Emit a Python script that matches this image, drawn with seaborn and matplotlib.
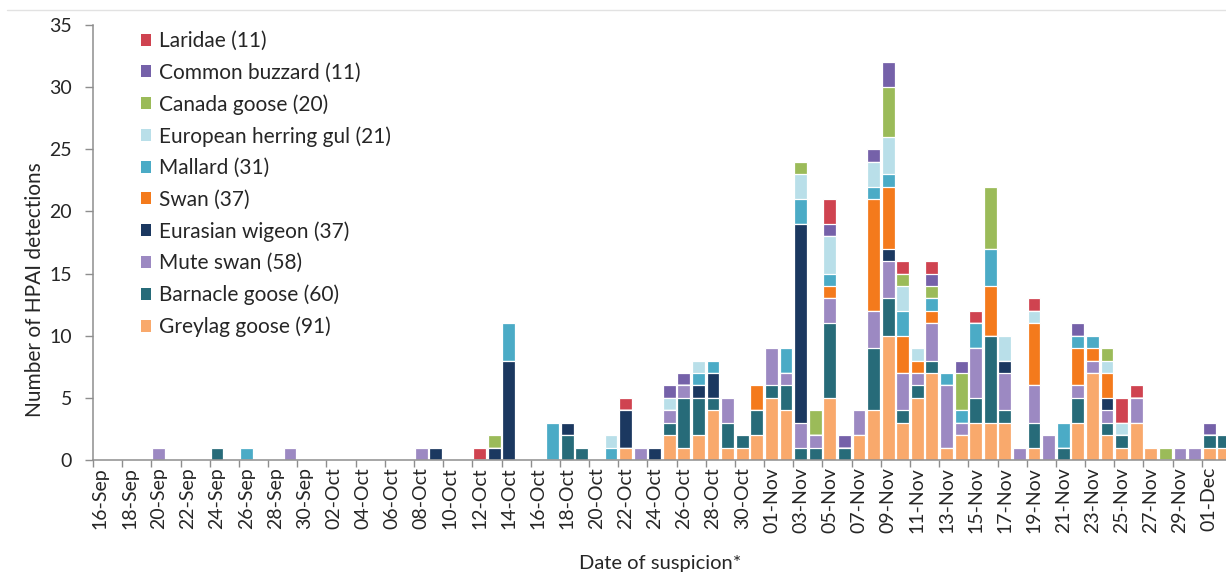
import numpy as np
import pandas as pd
import matplotlib
matplotlib.use("Agg")
import matplotlib.pyplot as plt
import seaborn as sns
from matplotlib.patches import Patch
from matplotlib.lines import Line2D

# ---------------- data ----------------
dates = pd.date_range("2021-09-16", "2021-12-02", freq="D")
date_labels = [d.strftime("%d-%b") for d in dates]
tick_labels = date_labels[::2]

#             idx 0-9 / 10-19 / 20-29 / 30-39 / 40-49 / 50-59 / 60-69 / 70-77
greylag = ([0, 0, 0, 0, 0, 0, 0, 0, 0, 0] + [0] * 10 + [0] * 10 +
           [0, 0, 0, 0, 0, 0, 1, 0, 0, 2] +
           [1, 2, 4, 1, 1, 2, 5, 4, 0, 0] +
           [5, 0, 2, 4, 10, 3, 5, 7, 1, 2] +
           [3, 3, 3, 0, 1, 0, 0, 3, 7, 2] +
           [1, 3, 1, 0, 0, 0, 1, 1])
barnacle = ([0, 0, 0, 0, 0, 0, 0, 0, 1, 0] + [0] * 10 + [0] * 10 +
            [0, 0, 2, 1, 0, 0, 0, 0, 0, 1] +
            [4, 3, 1, 2, 1, 2, 1, 2, 1, 1] +
            [6, 1, 0, 5, 3, 1, 1, 1, 0, 0] +
            [2, 7, 1, 0, 2, 0, 1, 2, 0, 1] +
            [1, 0, 0, 0, 0, 0, 1, 1])
mute_swan = ([0, 0, 0, 0, 1, 0, 0, 0, 0, 0] +
             [0, 0, 0, 1, 0, 0, 0, 0, 0, 0] +
             [0, 0, 1, 0, 0, 0, 0, 0, 0, 0] +
             [0, 0, 0, 0, 0, 0, 0, 1, 0, 1] +
             [1, 0, 0, 2, 0, 0, 3, 1, 2, 1] +
             [2, 0, 2, 3, 3, 3, 1, 3, 5, 1] +
             [4, 0, 3, 1, 3, 2, 0, 1, 1, 1] +
             [0, 2, 0, 0, 1, 1, 0, 0])
wigeon = ([0] * 10 + [0] * 10 +
          [0, 0, 0, 1, 0, 0, 0, 1, 8, 0] +
          [0, 0, 1, 0, 0, 0, 3, 0, 1, 0] +
          [0, 1, 2, 0, 0, 0, 0, 0, 16, 0] +
          [0, 0, 0, 0, 1, 0, 0, 0, 0, 0] +
          [0, 0, 1, 0, 0, 0, 0, 0, 0, 1] +
          [0, 0, 0, 0, 0, 0, 0, 0])
swan = ([0] * 10 + [0] * 10 + [0] * 10 + [0] * 10 +
        [0, 0, 0, 0, 0, 2, 0, 0, 0, 0] +
        [1, 0, 0, 9, 5, 3, 1, 1, 0, 0] +
        [0, 4, 0, 0, 5, 0, 0, 3, 1, 2] +
        [0, 0, 0, 0, 0, 0, 0, 0])
mallard = ([0] * 10 +
           [1, 0, 0, 0, 0, 0, 0, 0, 0, 0] +
           [0, 0, 0, 0, 0, 0, 0, 0, 3, 0] +
           [0, 3, 0, 0, 0, 1, 0, 0, 0, 0] +
           [0, 1, 1, 0, 0, 0, 0, 2, 2, 0] +
           [1, 0, 0, 1, 1, 2, 0, 1, 1, 1] +
           [2, 3, 0, 0, 0, 0, 2, 1, 1, 0] +
           [0, 0, 0, 0, 0, 0, 0, 0])
herring_gull = ([0] * 10 + [0] * 10 + [0] * 10 +
                [0, 0, 0, 0, 0, 1, 0, 0, 0, 1] +
                [0, 1, 0, 0, 0, 0, 0, 0, 2, 0] +
                [3, 0, 0, 2, 3, 2, 1, 0, 0, 0] +
                [0, 0, 2, 0, 1, 0, 0, 0, 0, 1] +
                [1, 0, 0, 0, 0, 0, 0, 0])
canada_goose = ([0] * 10 + [0] * 10 +
                [0, 0, 0, 0, 0, 0, 0, 1, 0, 0] +
                [0] * 10 +
                [0, 0, 0, 0, 0, 0, 0, 0, 1, 2] +
                [0, 0, 0, 0, 4, 1, 0, 1, 0, 3] +
                [0, 5, 0, 0, 0, 0, 0, 0, 0, 1] +
                [0, 0, 0, 1, 0, 0, 0, 0])
buzzard = ([0] * 10 + [0] * 10 + [0] * 10 +
           [0, 0, 0, 0, 0, 0, 0, 0, 0, 1] +
           [1, 0, 0, 0, 0, 0, 0, 0, 0, 0] +
           [1, 1, 0, 1, 2, 0, 0, 1, 0, 1] +
           [0, 0, 0, 0, 0, 0, 0, 1, 0, 0] +
           [0, 0, 0, 0, 0, 0, 1, 0])
laridae = ([0] * 10 + [0] * 10 +
           [0, 0, 0, 0, 0, 0, 1, 0, 0, 0] +
           [0, 0, 0, 0, 0, 0, 1, 0, 0, 0] +
           [0] * 10 +
           [2, 0, 0, 0, 0, 1, 0, 1, 0, 0] +
           [1, 0, 0, 0, 1, 0, 0, 0, 0, 0] +
           [2, 1, 0, 0, 0, 0, 0, 0])

species = ["Greylag goose", "Barnacle goose", "Mute swan", "Eurasian wigeon",
           "Swan", "Mallard", "European herring gul", "Canada goose",
           "Common buzzard", "Laridae"]
series = [greylag, barnacle, mute_swan, wigeon, swan, mallard,
          herring_gull, canada_goose, buzzard, laridae]
legend_counts = [91, 60, 58, 37, 37, 31, 21, 20, 11, 11]
colors = ["#F9A96C", "#276B79", "#9C89C2", "#1B3860", "#F47A1C",
          "#4BABC6", "#B9DFE9", "#9BBB59", "#7561A9", "#CF4350"]

# ---------------- plot ----------------
sns.set_theme(style="white")
plt.rcParams["font.family"] = ["Lato", "DejaVu Sans"]

W, H = 1226, 575
fig = plt.figure(figsize=(W / 100, H / 100), dpi=100)
ax = fig.add_axes([93 / W, 115 / H, 1138 / W, 435 / H])

cums = np.cumsum(np.array(series, dtype=float), axis=0)
for k in range(len(species) - 1, -1, -1):
    sns.barplot(x=date_labels, y=cums[k], order=date_labels, color=colors[k],
                saturation=1, width=0.88, edgecolor="white", linewidth=0.9,
                errorbar=None, ax=ax)

ax.set_xlim(-0.5, len(dates) - 0.5)
ax.set_ylim(0, 35)
ax.set_yticks(range(0, 36, 5))
ax.set_xticks(range(0, len(dates), 2))
ax.set_xticklabels(tick_labels, rotation=90)
ax.set_xticks(np.arange(-0.5, len(dates), 2), minor=True)
ax.set_xlabel("")
ax.set_ylabel("")

axis_col = "#8E8E8E"
ax.tick_params(axis="x", which="major", length=0, labelsize=14,
               labelcolor="#262626", pad=5)
ax.tick_params(axis="x", which="minor", length=5, width=1, color=axis_col,
               direction="out", bottom=True)
ax.tick_params(axis="y", length=6, width=1, color=axis_col, direction="out",
               labelsize=14, labelcolor="#262626", left=True, pad=9)
for s in ["top", "right"]:
    ax.spines[s].set_visible(False)
for s in ["left", "bottom"]:
    ax.spines[s].set_color(axis_col)
    ax.spines[s].set_linewidth(1.1)

fig.text(35 / W, 1 - 290 / H, "Number of HPAI detections", rotation=90,
         ha="center", va="center", fontsize=15, color="#262626")
fig.text(660 / W, 1 - 563 / H, "Date of suspicion*", ha="center",
         va="center", fontsize=14.5, color="#262626")

handles = [Patch(facecolor=colors[k], edgecolor="none")
           for k in range(len(species) - 1, -1, -1)]
labels = [f"{species[k]} ({legend_counts[k]})"
          for k in range(len(species) - 1, -1, -1)]
fig.legend(handles, labels, loc="upper left",
           bbox_to_anchor=(141 / W, 1 - 31 / H), frameon=False,
           fontsize=15, handlelength=0.5, handleheight=0.5,
           handletextpad=0.35, labelspacing=0.55, borderaxespad=0,
           borderpad=0, labelcolor="#262626")

fig.add_artist(Line2D([7 / W, 1], [1 - 10 / H, 1 - 10 / H],
                      color="#E2E2E2", lw=1))

fig.savefig("out.png", dpi=100, facecolor="white")
